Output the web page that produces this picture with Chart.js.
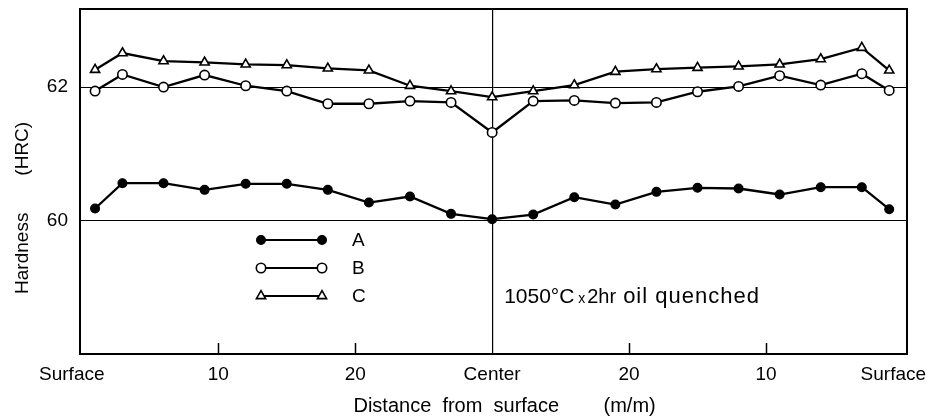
<!DOCTYPE html>
<html>
<head>
<meta charset="utf-8">
<script src="https://cdn.jsdelivr.net/npm/chart.js@4"></script>
<style>
  html, body { margin: 0; padding: 0; background: #fff; }
  #wrap { width: 933px; height: 416px; }
</style>
</head>
<body>
<div id="wrap"><canvas id="c" width="933" height="416"></canvas></div>
<script>
// ---- data ----
const distances = [1, 3, 6, 9, 12, 15, 18, 21, 24, 27, 30, 33, 36, 39, 42, 45, 48, 51, 54, 57, 59];
const seriesA = [60.18, 60.56, 60.56, 60.46, 60.55, 60.55, 60.46, 60.27, 60.36, 60.10, 60.02,
                 60.09, 60.35, 60.24, 60.43, 60.49, 60.48, 60.39, 60.50, 60.50, 60.17];
const seriesB = [61.94, 62.19, 62.00, 62.18, 62.02, 61.94, 61.75, 61.75, 61.79, 61.77, 61.32,
                 61.79, 61.80, 61.76, 61.77, 61.93, 62.01, 62.17, 62.03, 62.20, 61.95];
const seriesC = [62.26, 62.51, 62.39, 62.37, 62.34, 62.33, 62.28, 62.25, 62.02, 61.94, 61.85,
                 61.94, 62.03, 62.23, 62.27, 62.29, 62.31, 62.34, 62.42, 62.59, 62.25];
const seriesNames = ['A', 'B', 'C'];
const xTickValues = [-0.7, 10, 20, 30, 40, 50, 59.3];
const xTickLabels = ['Surface', '10', '20', 'Center', '20', '10', 'Surface'];
const xInnerTicks = [10, 20, 40, 50];
const xCenterValue = 30;
const yTickValues = [60, 62];
const yTickLabels = ['60', '62'];
const annotationText = ['1050°C', 'x', '2hr', 'oil quenched'];

const FONT = "'Liberation Sans', Arial, sans-serif";
Chart.defaults.color = '#000';
Chart.defaults.font.family = FONT;

function toPts(vals) { return distances.map((d, i) => ({ x: d, y: vals[i] })); }

function marker(ctx, style, x, y, r, fill, bw) {
  ctx.fillStyle = fill; ctx.strokeStyle = '#000'; ctx.lineWidth = bw;
  ctx.beginPath();
  if (style === 'triangle') {
    ctx.moveTo(x, y - r);
    ctx.lineTo(x + r * 0.866, y + r * 0.5);
    ctx.lineTo(x - r * 0.866, y + r * 0.5);
    ctx.closePath();
  } else {
    ctx.arc(x, y, r, 0, Math.PI * 2);
  }
  ctx.fill(); ctx.stroke();
}

const frame = {
  id: 'frame',
  afterDraw(chart) {
    const { ctx, chartArea: a, scales } = chart;
    ctx.save();
    ctx.strokeStyle = '#000';
    ctx.lineWidth = 2;
    ctx.strokeRect(a.left, a.top, a.right - a.left, a.bottom - a.top);
    // inner tick marks on the bottom axis
    ctx.lineWidth = 1.5;
    xInnerTicks.forEach(v => {
      const px = Math.round(scales.x.getPixelForValue(v)) + 0.5;
      ctx.beginPath(); ctx.moveTo(px, a.bottom); ctx.lineTo(px, a.bottom - 11); ctx.stroke();
    });
    // legend
    const lx1 = a.left + 181, lx2 = a.left + 242, tx = a.left + 272;
    chart.data.datasets.forEach((ds, i) => {
      const y = a.top + 231 + i * 28;
      ctx.strokeStyle = '#000'; ctx.lineWidth = 2;
      ctx.beginPath(); ctx.moveTo(lx1, y); ctx.lineTo(lx2, y); ctx.stroke();
      [lx1, lx2].forEach(x => marker(ctx, ds.pointStyle, x, y, ds.pointRadius, ds.pointBackgroundColor, ds.pointBorderWidth));
      ctx.fillStyle = '#000';
      ctx.font = '19px ' + FONT;
      ctx.textBaseline = 'middle'; ctx.textAlign = 'left';
      ctx.fillText(ds.label, tx, y + 1);
    });
    // annotation
    ctx.textBaseline = 'middle'; ctx.textAlign = 'left'; ctx.fillStyle = '#000';
    const ay = a.top + 288;
    const ax = scales.x.getPixelForValue(xCenterValue);
    ctx.font = '21px ' + FONT; ctx.fillText(annotationText[0], ax + 12, ay);
    ctx.font = '14px ' + FONT; ctx.fillText(annotationText[1], ax + 86, ay + 2);
    ctx.font = '20px ' + FONT; ctx.fillText(annotationText[2], ax + 95, ay);
    ctx.font = '22px ' + FONT;
    if ('letterSpacing' in ctx) ctx.letterSpacing = '1px';
    ctx.fillText(annotationText[3], ax + 131, ay);
    if ('letterSpacing' in ctx) ctx.letterSpacing = '0px';
    ctx.restore();
  }
};

new Chart(document.getElementById('c'), {
  type: 'line',
  data: {
    datasets: [
      { label: seriesNames[0], data: toPts(seriesA), borderColor: '#000', borderWidth: 2.3,
        pointStyle: 'circle', pointRadius: 4.4, pointBackgroundColor: '#000', pointBorderColor: '#000', pointBorderWidth: 1.2 },
      { label: seriesNames[1], data: toPts(seriesB), borderColor: '#000', borderWidth: 2.3,
        pointStyle: 'circle', pointRadius: 4.7, pointBackgroundColor: '#fff', pointBorderColor: '#000', pointBorderWidth: 1.6 },
      { label: seriesNames[2], data: toPts(seriesC), borderColor: '#000', borderWidth: 2.3,
        pointStyle: 'triangle', pointRadius: 5.3, pointBackgroundColor: '#fff', pointBorderColor: '#000', pointBorderWidth: 1.6 }
    ]
  },
  options: {
    responsive: false,
    animation: false,
    devicePixelRatio: 1,
    layout: { padding: { top: 9, right: 26, left: 0, bottom: 0 } },
    plugins: { legend: { display: false }, tooltip: { enabled: false } },
    elements: { line: { tension: 0 } },
    scales: {
      x: {
        type: 'linear', min: -0.1, max: 60.3,
        afterBuildTicks: s => { s.ticks = xTickValues.map(v => ({ value: v })); },
        afterFit: s => { s.height = 62; s.paddingLeft = 0; s.paddingRight = 0; },
        ticks: { autoSkip: false, maxRotation: 0, padding: 9, font: { size: 19 },
                 callback: (v, i) => xTickLabels[i] },
        grid: { drawTicks: false, lineWidth: 1.2,
                color: c => (c.tick && c.tick.value === xCenterValue) ? '#000' : 'rgba(0,0,0,0)' },
        border: { display: false },
        title: { display: true, text: '    Distance  from  surface        (m/m)',
                 font: { size: 20, lineHeight: 1 }, padding: { top: 0, bottom: 0 } }
      },
      y: {
        type: 'linear', min: 58, max: 63.17,
        afterBuildTicks: s => { s.ticks = yTickValues.map(v => ({ value: v })); },
        afterFit: s => { s.width = 80; s.paddingTop = 0; s.paddingBottom = 0; },
        ticks: { padding: 12, font: { size: 19 }, callback: (v, i) => yTickLabels[i] },
        grid: { drawTicks: false, color: '#000', lineWidth: 1 },
        border: { display: false },
        title: { display: true, text: 'Hardness       (HRC)          ',
                 font: { size: 19 }, padding: { top: 11, bottom: 0 } }
      }
    }
  },
  plugins: [frame]
});
</script>
</body>
</html>
